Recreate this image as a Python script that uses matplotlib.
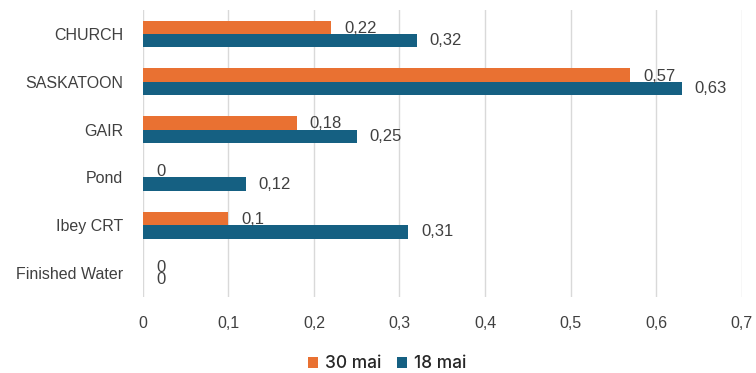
import matplotlib.pyplot as plt
import numpy as np

categories = ["CHURCH", "SASKATOON", "GAIR", "Pond", "Ibey CRT", "Finished Water"]
series_names = ["30 mai", "18 mai"]
values_30_mai = [0.22, 0.57, 0.18, 0, 0.10, 0]
values_18_mai = [0.32, 0.63, 0.25, 0.12, 0.31, 0]
x_ticks = [0, 0.1, 0.2, 0.3, 0.4, 0.5, 0.6, 0.7]
x_tick_labels = ["0", "0,1", "0,2", "0,3", "0,4", "0,5", "0,6", "0,7"]

colors = ["#E97132", "#156082"]

fig = plt.figure(figsize=(7.56, 3.73), dpi=100)
ax = fig.add_axes([0.189, 0.204, 0.792, 0.769])

y = np.arange(len(categories))
h = 0.28
bars_a = ax.barh(y - h / 2, values_30_mai, height=h, color=colors[0], label=series_names[0], zorder=3)
bars_b = ax.barh(y + h / 2, values_18_mai, height=h, color=colors[1], label=series_names[1], zorder=3)

def fmt(v):
    return f"{v:g}".replace(".", ",")

for bars, vals, dy in ((bars_a, values_30_mai, -1), (bars_b, values_18_mai, 0)):
    for b, v in zip(bars, vals):
        ax.annotate(fmt(v), (v, b.get_y() + b.get_height() / 2),
                    xytext=(13, dy), textcoords="offset pixels",
                    ha="left", va="center", fontsize=12, color="#404040",
                    family="Liberation Sans", zorder=4)

ax.set_xlim(0, 0.7)
ax.set_ylim(len(categories) - 0.5, -0.5)
ax.set_yticks(y)
ax.set_yticklabels(categories, fontsize=11.5, color="#404040", family="Liberation Sans")
ax.set_xticks(x_ticks)
ax.set_xticklabels(x_tick_labels, fontsize=11.5, color="#404040", family="Liberation Sans")
ax.tick_params(axis="both", length=0)
ax.tick_params(axis="y", pad=14)
ax.tick_params(axis="x", pad=14)
ax.grid(axis="x", color="#d9d9d9", linewidth=1, zorder=0)
for s in ax.spines.values():
    s.set_visible(False)

leg = fig.legend(handles=[bars_a, bars_b], labels=series_names, loc="center",
                 bbox_to_anchor=(0.512, 0.025), ncol=2, frameon=False,
                 handlelength=0.6, handleheight=0.6, handletextpad=0.4,
                 columnspacing=0.9, borderpad=0,
                 prop={"family": "Inter", "size": 12.5, "weight": "medium"})
for t in leg.get_texts():
    t.set_color("#262626")

fig.savefig("out.png", dpi=100)
